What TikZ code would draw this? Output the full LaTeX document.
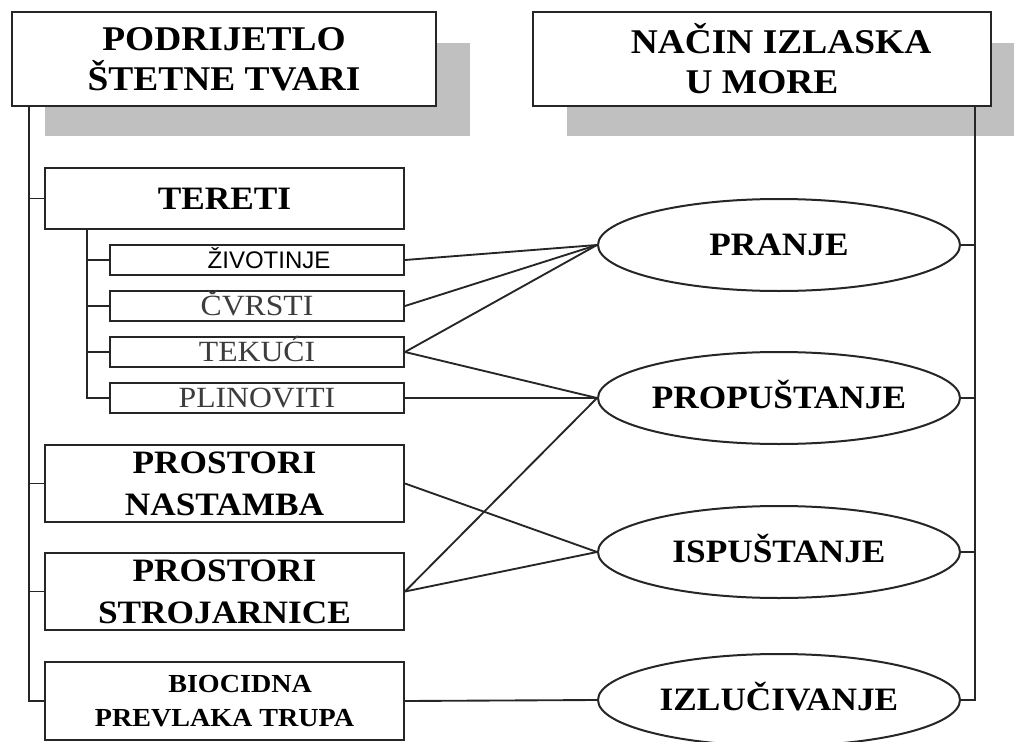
\documentclass[tikz,border=0pt]{standalone}
\usepackage{fontspec}
\setmainfont{Liberation Serif}[FakeStretch=1.08]
\newfontfamily\sansfont{Liberation Sans}
\usetikzlibrary{shapes.geometric}
\definecolor{shadowgray}{RGB}{192,192,192}
\definecolor{subgray}{RGB}{60,60,60}
\begin{document}
\begin{tikzpicture}[x=0.75pt,y=-0.75pt,
  box/.style={draw=black!85,line width=1.5pt,fill=white,inner sep=0pt,align=center},
  head box/.style={box,minimum height=70.5pt,font=\fontsize{26}{30}\selectfont\bfseries},
  main box/.style={box,minimum width=269.25pt,font=\fontsize{24.5}{31.5}\selectfont\bfseries},
  sub box/.style={box,minimum width=220.5pt,minimum height=22.5pt,text height=14.6pt,text depth=0pt,
    text=subgray,font=\fontsize{22}{22}\selectfont},
  way/.style={ellipse,draw=black!85,line width=1.5pt,fill=white,inner sep=0pt,minimum width=271.5pt,
    minimum height=69pt,text height=16.2pt,text depth=0pt,font=\fontsize{24.5}{30}\selectfont\bfseries},
  link/.style={line width=1.4pt,draw=black!85}]
\useasboundingbox (0,0) rectangle (1014,742);
%% shadows behind the two headers
\fill [shadowgray] (45,43) rectangle (470,136);
\fill [shadowgray] (567,43) rectangle (1014,136);
%% left column
\node [head box, minimum width=318pt] (origin) at (224,59) {PODRIJETLO\\ŠTETNE TVARI};
\node [main box, minimum height=45.75pt, text height=16.2pt, text depth=0pt] (cargo) at (224.5,198.5) {TERETI};
\node [sub box, text=black, text height=12.9pt, font=\sansfont\fontsize{18}{18}\selectfont] (animals) at (257,260) {\hspace*{1em}ŽIVOTINJE};
\node [sub box] (solid) at (257,306) {ČVRSTI};
\node [sub box] (liquid) at (257,352) {TEKUĆI};
\node [sub box] (gas) at (257,398) {PLINOVITI};
\node [main box, minimum height=57.75pt] (quarters) at (224.5,483.5) {PROSTORI\\NASTAMBA};
\node [main box, minimum height=57.75pt] (engine) at (224.5,591.5) {PROSTORI\\STROJARNICE};
\node [main box, minimum height=58.5pt, font=\fontsize{19.5}{25}\selectfont\bfseries] (hull) at (224.5,701) {\hspace*{1.2em}BIOCIDNA\\PREVLAKA TRUPA};
%% right column
\node [head box, minimum width=343.5pt] (exit) at (762,59) {\hspace*{1.1em}NAČIN IZLASKA\\U MORE};
\node [way] (wash) at (779,245) {PRANJE};
\node [way] (leak) at (779,398) {PROPUŠTANJE};
\node [way] (discharge) at (779,552) {ISPUŠTANJE};
\node [way] (leach) at (779,700) {IZLUČIVANJE};
%% trunks
\coordinate (ltop) at (29,106);
\coordinate (stop) at (87,229);
\coordinate (rtop) at (975,106);
\draw [link] (ltop) |- (hull.west);
\draw [link] (cargo.west) -- (cargo.west -| ltop);
\draw [link] (quarters.west) -- (quarters.west -| ltop);
\draw [link] (engine.west) -- (engine.west -| ltop);
\draw [link] (stop) |- (gas.west);
\draw [link] (animals.west) -- (animals.west -| stop);
\draw [link] (solid.west) -- (solid.west -| stop);
\draw [link] (liquid.west) -- (liquid.west -| stop);
\draw [link] (rtop) |- (leach.east);
\draw [link] (wash.east) -- (wash.east -| rtop);
\draw [link] (leak.east) -- (leak.east -| rtop);
\draw [link] (discharge.east) -- (discharge.east -| rtop);
%% sources to ways out
\draw [link] (animals.east) -- (wash.west);
\draw [link] (solid.east) -- (wash.west);
\draw [link] (liquid.east) -- (wash.west);
\draw [link] (liquid.east) -- (leak.west);
\draw [link] (gas.east) -- (leak.west);
\draw [link] (engine.east) -- (leak.west);
\draw [link] (quarters.east) -- (discharge.west);
\draw [link] (engine.east) -- (discharge.west);
\draw [link] (hull.east) -- (leach.west);
\end{tikzpicture}
\end{document}
